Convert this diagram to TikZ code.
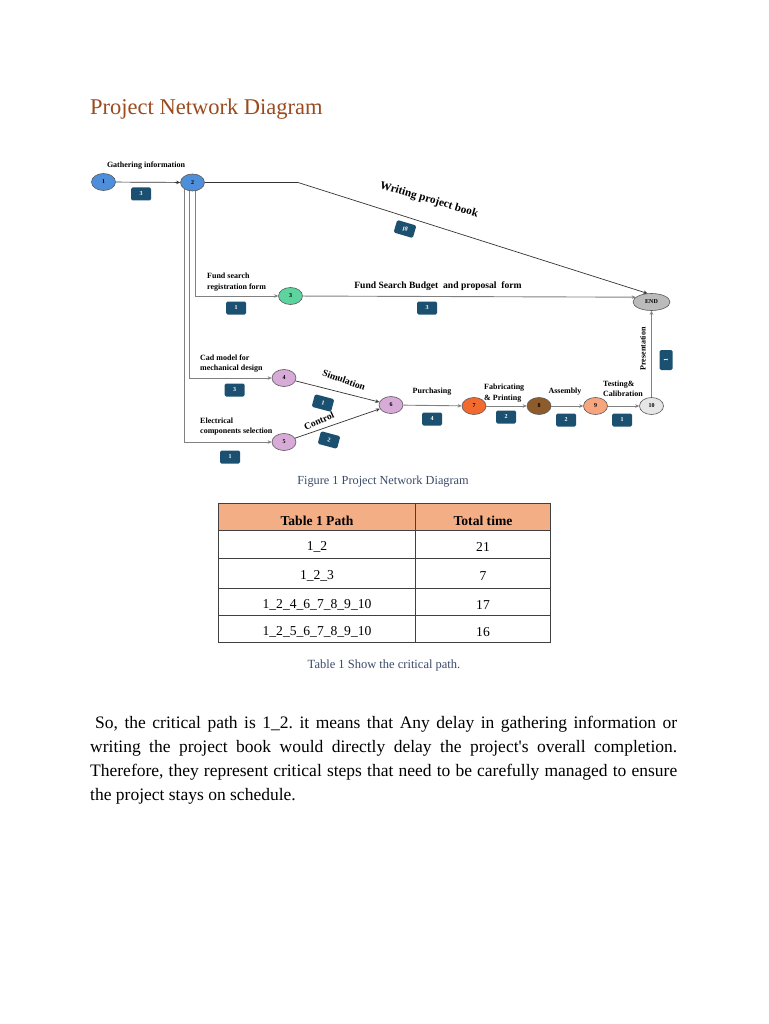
\documentclass[tikz,border=0pt]{standalone}
\usepackage{fontspec}
\setmainfont{Liberation Serif}
\usetikzlibrary{shapes.geometric,arrows.meta,calc}
\pgfdeclarelayer{bg}
\pgfsetlayers{bg,main}
\definecolor{titlebrown}{HTML}{9B4A1E}
\definecolor{capblue}{HTML}{3A4A68}
\definecolor{durbox}{HTML}{1B5070}
\definecolor{hdr}{HTML}{F4AE86}
\definecolor{cblue}{HTML}{4E8FDB}
\definecolor{cgreen}{HTML}{5DD39E}
\definecolor{clav}{HTML}{D8AAD8}
\definecolor{corange}{HTML}{F26A2E}
\definecolor{cbrown}{HTML}{8E5B2A}
\definecolor{csalmon}{HTML}{F6A57E}
\definecolor{cgray}{HTML}{E6E6E6}
\definecolor{cend}{HTML}{BBBBBB}
\newcommand\fsz[1]{\fontsize{#1}{#1}\selectfont}
\frenchspacing
\begin{document}
\begin{tikzpicture}[x=1pt,y=-1pt,
 ev/.style={ellipse,draw=black!65,line width=0.6pt,minimum width=24pt,minimum height=17pt,inner sep=0pt,font=\bfseries\fsz{6}},
 dur/.style={rounded corners=1.5pt,fill=durbox,text=white,minimum width=20pt,minimum height=13pt,inner sep=0pt,font=\bfseries\fsz{6}},
 lbl/.style={font=\bfseries\fontsize{8}{10.5}\selectfont,align=left,inner sep=0pt},
 big/.style={font=\bfseries\fsz{9.6},inner sep=0pt},
 arr/.style={draw=black!80,line width=0.7pt,-{Stealth[length=4pt,width=3.5pt]}},
 garr/.style={draw=black!50,line width=0.9pt,-{Stealth[length=4pt,width=3.5pt]}},
 tline/.style={draw=black!75,line width=0.8pt},
 cell/.style={font=\fsz{13.6},inner sep=0pt},
 para/.style={anchor=base west,inner sep=0pt,font=\fsz{17.5}}
]
\begin{pgfonlayer}{bg}
\fill[white] (0,0) rectangle (768,1024);
\end{pgfonlayer}
\useasboundingbox (0,0) rectangle (768,1024);

% title
\node[anchor=base west,inner sep=0pt,text=titlebrown,font=\fsz{22.5}] (title) at (90,115) {Project Network Diagram};

% events
\node[ev,fill=cblue] (n1) at (103.5,182) {1};
\node[ev,fill=cblue] (n2) at (192.5,182.5) {2};
\node[ev,fill=cgreen] (n3) at (290.5,296) {3};
\node[ev,fill=clav] (n4) at (284,378) {4};
\node[ev,fill=clav] (n5) at (284,442) {5};
\node[ev,fill=clav] (n6) at (391,405) {6};
\node[ev,fill=corange] (n7) at (474,406) {7};
\node[ev,fill=cbrown] (n8) at (539,406) {8};
\node[ev,fill=csalmon] (n9) at (595.5,406) {9};
\node[ev,fill=cgray] (n10) at (651.5,406) {10};
\node[ev,fill=cend,minimum width=37pt,minimum height=17pt] (end) at (651.5,302) {END};

% connectors
\draw[arr] (n1) -- (n2);
\coordinate (k1) at (298,182.5);
\draw[arr] (n2) -- (k1) -- (end.115);
\begin{pgfonlayer}{bg}
\coordinate (d3) at (195,183);
\coordinate (d4) at (189.5,183);
\coordinate (d5) at (184,183);
\draw[garr] (d3) |- (n3);
\draw[garr] (d4) |- (n4);
\draw[garr] (d5) |- (n5);
\end{pgfonlayer}
\draw[garr] (n3) -- (end.163);
\draw[arr] (n4) -- (n6);
\draw[arr] (n5) -- (n6);
\draw[garr] (n6) -- (n7);
\draw[garr] (n7) -- (n8);
\draw[garr] (n8) -- (n9);
\draw[garr] (n9) -- (n10);
\draw[garr] (n10) -- (end);

% labels and durations
\node[lbl] (lg) at (146,166) {Gathering information};
\node[dur] (b12) at (141,194) {3};
\node[font=\bfseries\fsz{11.3},inner sep=0pt,rotate=-16.5] (lw) at (429,200) {Writing project book};
\node[dur,rotate=-16.5] (b2e) at (405,229) {18};
\node[lbl,anchor=west] (lf) at (207,282) {Fund search\\registration form};
\node[dur] (b23) at (236,308) {1};
\node[big] (lfs) at (438,286) {Fund Search Budget\ \ and proposal\ \ form};
\node[dur] (b3e) at (427,308) {3};
\node[lbl,anchor=west] (lc) at (200,363.5) {Cad model for\\mechanical design};
\node[dur] (b24) at (234.5,390) {3};
\node[lbl,anchor=west] (le) at (200,426.5) {Electrical\\components selection};
\node[dur] (b25) at (230,457) {1};
\node[big,rotate=-20] (ls) at (344,380) {Simulation};
\node[dur,rotate=-15] (b46) at (323,403) {1};
\node[big,rotate=24] (lct) at (319,421) {Control};
\node[dur,rotate=-15] (b56) at (329,440) {2};
\node[lbl] (lp) at (432,392) {Purchasing};
\node[dur] (b67) at (432,419) {4};
\node[lbl,anchor=west] (lfp) at (484,393) {Fabricating\\\& Printing};
\node[dur] (b78) at (506,417) {2};
\node[lbl] (la) at (565,392) {Assembly};
\node[dur] (b89) at (566,420) {2};
\node[lbl,anchor=west] (lt) at (603,389) {Testing\&\\Calibration};
\node[dur] (b910) at (622,420) {1};
\node[lbl,rotate=90] (lpr) at (643,349) {Presentation};
\node[dur,rotate=90] (b10e) at (666,360) {1};

\node[text=capblue,font=\fsz{12.3},inner sep=0pt] (fc) at (383,482) {Figure 1 Project Network Diagram};

% table
\fill[hdr] (218,503) rectangle (550,530);
\draw[tline] (218,503) rectangle (550,642);
\draw[tline] (218,530) -- (550,530);
\draw[tline] (218,558) -- (550,558);
\draw[tline] (218,588) -- (550,588);
\draw[tline] (218,615) -- (550,615);
\draw[tline] (415,503) -- (415,642);
\node[cell,font=\bfseries\fsz{13.6}] (h1) at (317,521) {Table 1 Path};
\node[cell,font=\bfseries\fsz{13.6}] (h2) at (483,521) {Total time};
\node[cell] (r1a) at (317,547) {1\_2};
\node[cell] (r1b) at (483,547) {21};
\node[cell] (r2a) at (317,576) {1\_2\_3};
\node[cell] (r2b) at (483,576) {7};
\node[cell] (r3a) at (317,605) {1\_2\_4\_6\_7\_8\_9\_10};
\node[cell] (r3b) at (483,605) {17};
\node[cell] (r4a) at (317,632) {1\_2\_5\_6\_7\_8\_9\_10};
\node[cell] (r4b) at (483,632) {16};
\node[text=capblue,font=\fsz{12.5},inner sep=0pt] (tc) at (384,665) {Table 1 Show the critical path.};

% paragraph
\node[para] (p1) at (95,728) {\makebox[582pt][s]{So, the critical path is 1\_2. it means that Any delay in gathering information or}};
\node[para] (p2) at (90,752) {\makebox[587pt][s]{writing the project book would directly delay the project\textquotesingle s overall completion.}};
\node[para] (p3) at (90,776) {\makebox[587pt][s]{Therefore, they represent critical steps that need to be carefully managed to ensure}};
\node[para] (p4) at (90,800) {the project stays on schedule.};
\end{tikzpicture}
\end{document}
